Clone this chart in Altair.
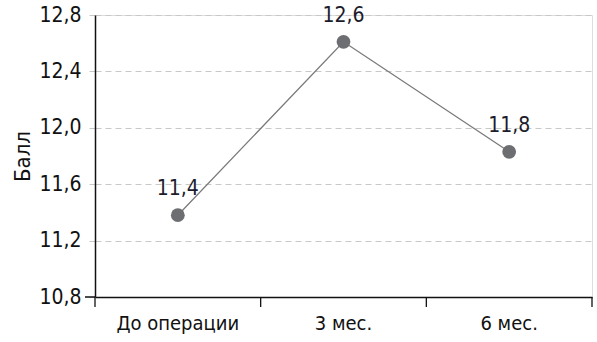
import altair as alt
import pandas as pd

categories = ["До операции", "3 мес.", "6 мес."]
values = [11.38, 12.61, 11.83]
labels = ["11,4", "12,6", "11,8"]
y_ticks = [10.8, 11.2, 11.6, 12.0, 12.4, 12.8]

FONT = "Liberation Sans Narrow, DejaVu Sans Condensed, Roboto, sans-serif"

df = pd.DataFrame({"cat": categories, "val": values, "lab": labels})

W, H = 497, 282

xenc = alt.X("cat:N", sort=categories, scale=alt.Scale(paddingInner=0, paddingOuter=0),
             axis=alt.Axis(title=None, ticks=False, labelFontSize=20, labelFont=FONT,
                           labelColor="#111", labelPadding=16, domainColor="#111",
                           domainWidth=1.5, labelAngle=0))
yenc = alt.Y("val:Q", scale=alt.Scale(domain=[10.8, 12.8], nice=False, zero=False),
             axis=alt.Axis(title="Балл", titleFont=FONT, titleFontSize=22, titleFontWeight="normal",
                           titleColor="#111", titlePadding=4,
                           values=y_ticks, labelFont=FONT, labelFontSize=21, labelColor="#111",
                           labelExpr="replace(format(datum.value, '.1f'), '.', ',')",
                           tickColor="#c8c8c8", tickDash=[6, 4], tickSize=8, labelPadding=6,
                           grid=True, gridColor="#c8c8c8", gridDash=[6, 4], gridWidth=1,
                           domainColor="#111", domainWidth=1.5))

line = alt.Chart(df).mark_line(color="#7a7a7a", strokeWidth=1.3).encode(x=xenc, y=yenc)
pts = alt.Chart(df).mark_circle(size=190, color="#6d6e71", opacity=1).encode(
    x=alt.X("cat:N", sort=categories), y="val:Q")
txt = alt.Chart(df).mark_text(font=FONT, fontSize=21, color="#1c1c2c", dy=-26,
                              baseline="middle").encode(
    x=alt.X("cat:N", sort=categories), y="val:Q", text="lab:N")

ticks_start = alt.Chart(df).mark_rule(color="#111", strokeWidth=1.3).encode(
    x=alt.X("cat:N", sort=categories, bandPosition=0),
    y=alt.value(H), y2=alt.value(H + 10))
ticks_end = alt.Chart(df.tail(1)).mark_rule(color="#111", strokeWidth=1.3).encode(
    x=alt.X("cat:N", sort=categories, bandPosition=1),
    y=alt.value(H), y2=alt.value(H + 10))
base_ext = alt.Chart(df.head(1)).mark_rule(color="#111", strokeWidth=1.5).encode(
    x=alt.value(-10), x2=alt.value(0), y=alt.value(H))

chart = alt.layer(line, pts, txt, ticks_start, ticks_end, base_ext).properties(
    width=W, height=H,
    autosize=alt.AutoSizeParams(type="none"),
    padding={"left": 95, "top": 15, "right": 5, "bottom": 45},
).configure_view(stroke=None).configure(background="white")

chart.save("out.html", embed_options={"renderer": "svg", "actions": False})
